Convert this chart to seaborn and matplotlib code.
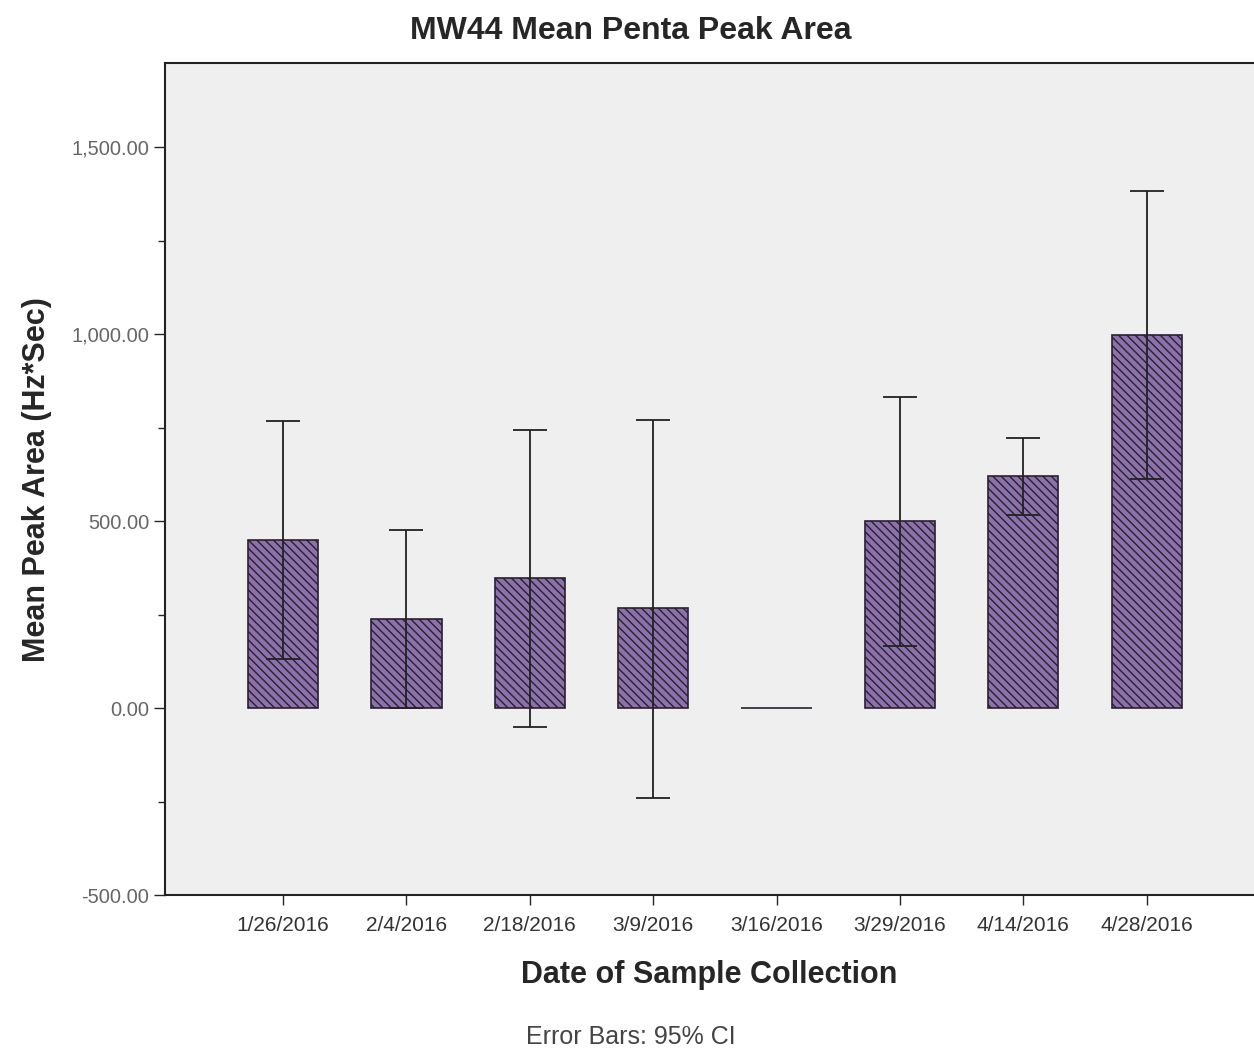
import numpy as np
import matplotlib
matplotlib.use("Agg")
import matplotlib.pyplot as plt
import seaborn as sns

dates = ["1/26/2016", "2/4/2016", "2/18/2016", "3/9/2016",
         "3/16/2016", "3/29/2016", "4/14/2016", "4/28/2016"]
mean_area = [449, 238, 348, 267, 0, 500, 620, 997]
ci_upper = [767, 476, 743, 770, np.nan, 832, 722, 1382]
ci_lower = [131, 0, -51, -241, np.nan, 166, 516, 612]

sns.set_style("white")
plt.rcParams["font.family"] = ["Liberation Sans", "DejaVu Sans"]
plt.rcParams["hatch.color"] = "#2a2030"
plt.rcParams["hatch.linewidth"] = 1.0

fig = plt.figure(figsize=(12.54, 10.53), dpi=100)
ax = fig.add_axes([0.1316, 0.15, 0.8684, 0.79])
ax.set_facecolor("#efefef")

sns.barplot(x=dates, y=mean_area, color="#8c72aa", width=0.57, ax=ax,
            edgecolor="#2a2030", linewidth=1.2, saturation=1)
for p in ax.patches:
    p.set_hatch("\\\\\\\\")

x = np.arange(len(dates))
m = np.array(mean_area, dtype=float)
up = np.array(ci_upper) - m
lo = m - np.array(ci_lower)
ax.errorbar(x, m, yerr=[lo, up], fmt="none", ecolor="#222222",
            elinewidth=1.3, capsize=12, capthick=1.3)

ax.set_xlim(-0.957, 7.87)
ax.set_ylim(-500, 1725)
ax.set_yticks([-500, 0, 500, 1000, 1500])
ax.set_yticklabels(["-500.00", "0.00", "500.00", "1,000.00", "1,500.00"])
ax.set_yticks([-250, 250, 750, 1250], minor=True)
ax.tick_params(axis="y", which="major", direction="out", length=8, width=1,
               labelsize=14.5, labelcolor="#666666", left=True)
ax.tick_params(axis="y", which="minor", direction="out", length=5, width=1, left=True)
ax.tick_params(axis="x", direction="out", length=7, width=1, labelsize=15,
               labelcolor="#333333", bottom=True, pad=8)

for s in ["left", "bottom", "top"]:
    ax.spines[s].set_color("#222222")
    ax.spines[s].set_linewidth(1.5)
ax.spines["right"].set_visible(False)

ax.set_xlabel("Date of Sample Collection", fontsize=22, fontweight="bold", labelpad=18)
ax.set_ylabel("Mean Peak Area (Hz*Sec)", fontsize=22, fontweight="bold", labelpad=14)

fig.text(0.503, 0.971, "MW44 Mean Penta Peak Area", ha="center", va="center",
         fontsize=23, fontweight="bold")
fig.text(0.503, 0.015, "Error Bars: 95% CI", ha="center", va="center",
         fontsize=18, color="#444444")

fig.savefig("out.png", dpi=100)
